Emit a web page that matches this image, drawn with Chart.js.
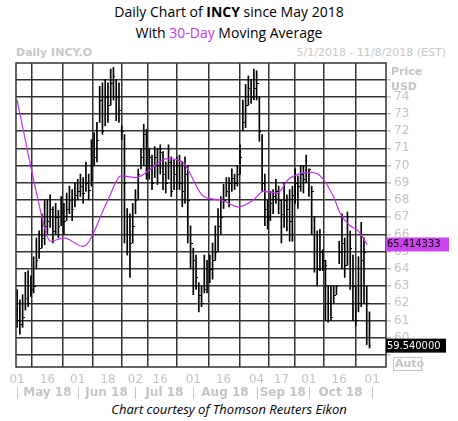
<!DOCTYPE html>
<html><head><meta charset="utf-8">
<script src="https://cdn.jsdelivr.net/npm/chart.js@4"></script>
<style>
body{margin:0;background:#fff;width:458px;height:421px;overflow:hidden;font-family:"DejaVu Sans",sans-serif;position:relative}
.t{position:absolute;left:0;width:458px;text-align:center;font-family:"Open Sans",sans-serif;font-size:14px;color:#000}
#wrap{position:absolute;left:0;top:44px;width:458px;height:358px}
</style></head><body>
<div class="t" style="top:2px">Daily Chart of <b>INCY</b> since May 2018</div>
<div class="t" style="top:23px">With <span style="color:#c040e0">30-Day</span> Moving Average</div>
<div style="position:absolute;left:16px;top:46px;font-size:11px;color:#c8c8c8;font-weight:bold;font-family:Tahoma,'DejaVu Sans',sans-serif">Daily INCY.O</div>
<div style="position:absolute;right:12px;top:46px;font-size:11px;color:#c8c8c8;font-family:'DejaVu Sans',sans-serif">5/1/2018 - 11/8/2018 (EST)</div>
<div class="t" style="top:400px;font-style:italic;font-size:13px">Chart courtesy of Thomson Reuters Eikon</div>
<div id="wrap"><canvas id="c"></canvas></div>
<script>
const closes=[61.0,60.8,61.2,62.3,62.0,62.8,63.0,64.5,65.2,65.8,66.5,66.8,67.5,66.2,67.0,66.5,67.3,66.8,67.5,68.0,67.5,68.3,
68.5,68.8,68.4,69.0,68.6,69.2,70.5,71.5,73.8,72.0,74.0,73.5,74.8,75.2,74.0,73.2,72.0,69.0,66.0,65.5,66.5,
68.0,69.5,70.5,71.8,70.0,70.5,69.0,70.5,70.0,70.8,69.5,69.0,70.2,68.5,69.5,70.0,69.0,68.5,69.5,68.0,65.5,
64.5,63.5,62.5,62.0,62.8,63.0,64.0,64.5,65.0,66.5,67.0,68.0,68.5,69.0,69.3,69.0,69.5,70.5,72.5,73.5,74.5,74.0,74.5,
74.8,72.0,69.0,67.5,67.0,67.8,68.2,68.5,68.0,67.2,68.0,67.5,66.8,68.3,69.0,68.8,69.5,69.2,70.0,
69.8,68.5,66.0,64.0,65.0,64.5,64.2,62.0,61.2,62.5,63.0,65.0,65.5,64.2,66.0,65.2,63.0,61.0,62.0,64.5,65.0,62.0,59.6];
const highs=[62.8,62.2,62.5,63.8,63.9,63.6,64.7,65.8,66.2,67.2,68.0,68.0,68.3,67.6,67.8,67.4,68.2,67.8,68.4,68.8,68.6,69.0,
69.2,69.5,69.3,70.2,69.5,71.5,71.9,72.5,74.6,74.8,75.0,74.8,75.6,75.7,75.0,74.8,72.3,71.8,67.5,67.2,67.8,
68.6,69.8,71.0,72.4,72.1,71.0,70.6,71.1,71.0,71.2,70.8,70.2,71.2,70.5,70.3,70.5,70.6,70.2,70.5,70.0,66.5,
65.2,64.8,63.2,63.0,64.8,64.5,64.8,65.5,66.5,67.5,68.2,68.9,69.3,69.3,69.8,69.5,70.0,71.2,73.8,74.7,75.2,75.0,75.6,
75.5,74.0,71.8,69.5,68.0,68.5,68.6,69.2,68.8,68.0,69.0,68.3,68.6,68.8,69.8,69.4,70.0,70.0,70.6,
69.8,68.8,67.0,66.2,66.3,65.1,64.5,63.0,63.0,63.0,63.0,65.6,67.2,65.8,67.3,66.2,64.8,63.0,64.7,66.7,65.8,63.0,61.5];
const lows=[60.6,60.2,60.6,61.6,61.8,62.4,62.6,64.0,64.6,65.2,65.4,66.0,66.4,65.5,66.0,65.8,66.5,66.0,66.8,67.2,66.8,67.6,
68.0,68.2,67.8,68.5,68.0,68.8,70.0,70.2,72.5,71.8,72.3,72.5,73.5,73.8,72.6,72.5,71.5,65.5,64.8,63.5,65.5,
67.2,68.0,69.8,70.0,69.2,69.2,68.6,69.3,68.9,69.5,68.6,68.4,69.2,68.2,68.6,68.6,68.6,67.6,67.8,65.5,64.0,
62.5,62.8,61.5,61.8,62.6,62.6,63.2,63.4,64.5,65.0,66.0,67.5,68.2,67.6,68.5,68.6,68.8,69.5,72.0,72.2,73.5,73.6,73.8,
73.8,71.4,68.5,66.5,66.3,66.8,67.2,67.8,67.2,65.5,66.4,66.2,65.6,65.6,67.8,67.5,68.5,68.4,69.0,
68.2,66.0,63.8,63.0,63.9,63.9,61.0,60.9,61.0,62.0,62.5,64.3,64.0,63.5,64.2,62.8,61.0,60.7,61.5,61.8,62.0,59.6,59.4];
const maDays=[0,7.6,10.9,12.3,17,23.9,33,37.7,43.1,54.7,60.1,67.8,73.9,80.4,85.9,89.5,94.6,98.6,106.5,110.1,114.9,117.4,121,123.9,127.2];
const maValues=[73.8,68.0,65.9,65.6,65.8,65.3,68.0,69.4,69.3,70.4,70.2,68.2,68.0,67.6,68.0,68.5,68.4,69.2,69.6,69.4,68.2,67.2,66.5,66.2,65.4];
const tickDays=[0,11,22,33,43,52,64,75,87,96,106,117,129];
const tickLabels=['01','16','01','18','02','16','01','16','04','17','01','16','01'];
const monthStarts=[0,22,43,64,87,106,129];
const monthLabels=['May 18','Jun 18','Jul 18','Aug 18','Sep 18','Oct 18'];
const priceTicks=[60,61,62,63,64,65,66,67,68,69,70,71,72,73,74];
const maLast=65.414333, lastClose=59.540000;

const gray='#c4c4c4';
const extra={id:'extra',
 afterDatasetsDraw(ch){
  const c=ch.ctx,x=ch.scales.x,y=ch.scales.y,a=ch.chartArea;
  c.save();c.strokeStyle='#000';c.lineWidth=1;
  closes.forEach((v,i)=>{const px=Math.round(x.getPixelForValue(i)),py=Math.round(y.getPixelForValue(v))+0.5;
   c.beginPath();c.moveTo(px,py);c.lineTo(px+2,py);c.stroke();});
  c.strokeStyle='#333';c.lineWidth=1.5;c.strokeRect(a.left,a.top,a.right-a.left,a.bottom-a.top);
  c.restore();
 },
 afterDraw(ch){
  const c=ch.ctx,x=ch.scales.x,y=ch.scales.y,a=ch.chartArea;
  c.save();
  c.font='bold 11px Tahoma, "DejaVu Sans", sans-serif';c.fillStyle=gray;c.textAlign='left';c.textBaseline='middle';
  c.fillText('Price',a.right+5,a.top+9);c.fillText('USD',a.right+5,a.top+24);
  c.strokeStyle=gray;c.lineWidth=1;
  const my=a.bottom+26;
  monthStarts.forEach(d=>{const px=Math.round(x.getPixelForValue(d))+0.5;c.beginPath();c.moveTo(px,my-6);c.lineTo(px,my+6);c.stroke();});
  c.textAlign='center';c.font='bold 12px "DejaVu Sans", sans-serif';
  monthLabels.forEach((m,i)=>{const px=(x.getPixelForValue(monthStarts[i])+x.getPixelForValue(monthStarts[i+1]))/2;c.fillText(m,px,my);});
  c.font='11px "DejaVu Sans Condensed", "DejaVu Sans", sans-serif';c.textAlign='left';
  let py=y.getPixelForValue(maLast);
  c.fillStyle='#cc44ee';c.fillRect(a.right,py-7,63,14);c.fillStyle='#000';c.fillText(maLast.toFixed(6),a.right+1,py);
  py=y.getPixelForValue(lastClose);
  c.fillStyle='#000';c.fillRect(a.right,py-7,60,14);c.fillStyle='#fff';c.fillText(lastClose.toFixed(6),a.right+1,py);
  c.strokeStyle=gray;c.strokeRect(a.right+7.5,a.bottom-9.5,28,13);c.fillStyle=gray;c.font='bold 11px "DejaVu Sans", sans-serif';c.fillText('Auto',a.right+9,a.bottom-3);
  c.restore();
 }};

new Chart(document.getElementById('c'),{
 type:'bar',
 data:{datasets:[
  {type:'line',data:maDays.map((d,i)=>({x:d,y:maValues[i]})),borderColor:'#c030f0',borderWidth:1.2,pointRadius:0,cubicInterpolationMode:'monotone'},
  {type:'bar',data:lows.map((l,i)=>({x:i,y:[l,highs[i]]})),backgroundColor:'#000',barThickness:1,grouped:false}
 ]},
 plugins:[extra],
 options:{responsive:true,maintainAspectRatio:false,animation:false,
  layout:{padding:{left:16,top:19,right:0,bottom:0}},
  plugins:{legend:{display:false},tooltip:{enabled:false}},
  scales:{
   x:{type:'linear',min:-0.4,max:134,offset:false,
    afterBuildTicks:s=>{s.ticks=tickDays.map(v=>({value:v}));},
    afterFit:s=>{s.height=35;},
    grid:{color:'#333',lineWidth:1.5,drawTicks:false},border:{display:false},
    ticks:{callback:(v)=>tickLabels[tickDays.indexOf(v)],color:gray,font:{size:12,family:'"DejaVu Sans"'},maxRotation:0,autoSkip:false,padding:6}},
   y:{position:'right',min:58.3,max:75.95,
    afterBuildTicks:s=>{s.ticks=[59,60,61,62,63,64,65,66,67,68,69,70,71,72,73,74,75].map(v=>({value:v}));},
    afterFit:s=>{s.width=72;},
    grid:{color:'#333',lineWidth:1.5,tickColor:gray,tickLength:5},border:{display:false},
    ticks:{callback:v=>priceTicks.includes(v)?String(v):'',color:gray,font:{size:12,family:'"DejaVu Sans"'},padding:3}}
  }}
});
</script></body></html>
